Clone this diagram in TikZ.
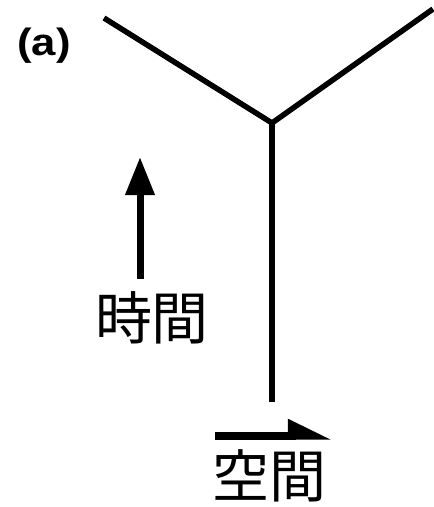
\documentclass[tikz,border=0pt]{standalone}
\usepackage{fontspec}
\setsansfont{Liberation Sans}
\newfontfamily\cjk{Noto Sans CJK JP}
\usetikzlibrary{arrows.meta}
\begin{document}
\begin{tikzpicture}[x=1pt,y=-1pt,
  prop/.style={line width=5.5pt,line cap=butt},
  axis/.style={line width=7pt},
  lbl/.style={inner sep=0pt,font=\cjk\fontsize{57}{57}\selectfont}]
\useasboundingbox (0,0) rectangle (434,507);
\node[inner sep=0pt,xscale=1.15,font=\sffamily\bfseries\fontsize{38}{38}\selectfont] (lab) at (44,46) {(a)};
\coordinate (l) at (104,18);
\coordinate (r) at (433,9);
\coordinate (v) at (272,123);
\coordinate (b) at (272,402);
\draw[prop] (l) -- (v);
\draw[prop] (r) -- (v);
\draw[line width=6pt] (v) -- (b);
\coordinate (t0) at (140,279);
\coordinate (t1) at (140,157);
\draw[axis,-{Triangle[length=38pt,width=28pt]}] (t0) -- (t1);
\node[lbl] (time) at (152,318) {時間};
\coordinate (s0) at (215,435.5);
\coordinate (s1) at (332,435.5);
\draw[line width=8pt,-{Triangle[length=35pt,width=31pt,left]}] (s0) -- (s1);
\node[lbl] (space) at (269,476) {空間};
\end{tikzpicture}
\end{document}
